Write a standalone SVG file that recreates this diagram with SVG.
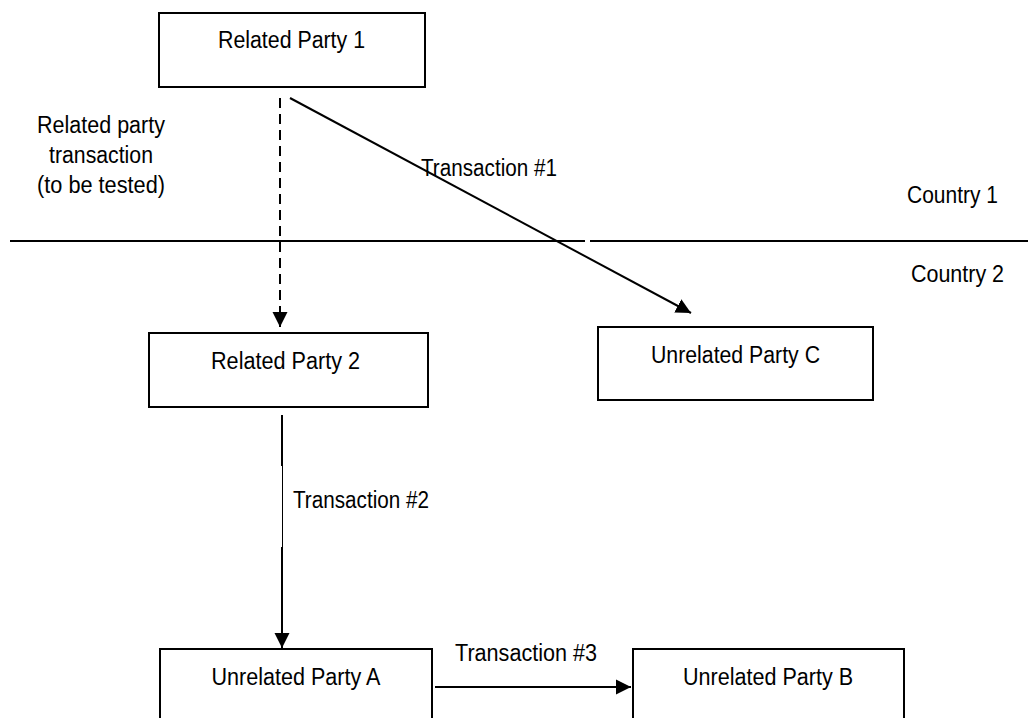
<svg xmlns="http://www.w3.org/2000/svg" width="1028" height="718" viewBox="0 0 1028 718">
<style>
.box{fill:#fff;stroke:#000;stroke-width:2}
.t{font-family:"Liberation Sans",Arial,sans-serif;font-size:23px;fill:#000}
.m{text-anchor:middle}
.ln{stroke:#000;stroke-width:2;fill:none}
.thin{stroke:#000;stroke-width:1;fill:none}
</style>
<defs>
<marker id="ah" markerUnits="userSpaceOnUse" markerWidth="16" markerHeight="16" viewBox="0 0 16 16" refX="15" refY="8" orient="auto">
<path d="M0,0.5 L15,8 L0,15.5 Z" fill="#000"/>
</marker>
</defs>
<rect width="1028" height="718" fill="#fff"/>
<g id="border-line">
<line class="ln" x1="10" y1="241" x2="585" y2="241"/>
<line class="ln" x1="590" y1="241" x2="1028" y2="241"/>
</g>
<g id="connectors">
<line class="ln" x1="280" y1="98" x2="280" y2="327" stroke-dasharray="10,6" marker-end="url(#ah)"/>
<line class="ln" x1="290" y1="98" x2="691" y2="313" stroke-width="2.4" marker-end="url(#ah)"/>
<line class="ln" x1="282" y1="415" x2="282" y2="466"/>
<line class="thin" x1="282.5" y1="465" x2="282.5" y2="548"/>
<line class="ln" x1="282" y1="547" x2="282" y2="648" marker-end="url(#ah)"/>
<line class="ln" x1="435" y1="687" x2="631" y2="687" marker-end="url(#ah)"/>
</g>
<g id="rp1">
<rect class="box" x="159" y="13" width="266" height="74"/>
<text class="t m" x="291.5" y="48" textLength="147" lengthAdjust="spacingAndGlyphs">Related Party 1</text>
</g>
<g id="rp2">
<rect class="box" x="149" y="333" width="279" height="74"/>
<text class="t m" x="285.5" y="369" textLength="149" lengthAdjust="spacingAndGlyphs">Related Party 2</text>
</g>
<g id="upc">
<rect class="box" x="598" y="327" width="275" height="73"/>
<text class="t m" x="735.5" y="363" textLength="169" lengthAdjust="spacingAndGlyphs">Unrelated Party C</text>
</g>
<g id="upa">
<rect class="box" x="160" y="649" width="272" height="80"/>
<text class="t m" x="296" y="685" textLength="169" lengthAdjust="spacingAndGlyphs">Unrelated Party A</text>
</g>
<g id="upb">
<rect class="box" x="633" y="649" width="271" height="80"/>
<text class="t m" x="768" y="685" textLength="170" lengthAdjust="spacingAndGlyphs">Unrelated Party B</text>
</g>
<g id="labels">
<text class="t m" x="101" y="133" textLength="128" lengthAdjust="spacingAndGlyphs">Related party</text>
<text class="t m" x="101" y="163" textLength="104" lengthAdjust="spacingAndGlyphs">transaction</text>
<text class="t m" x="101" y="193" textLength="128" lengthAdjust="spacingAndGlyphs">(to be tested)</text>
<text class="t" x="421" y="176" textLength="136" lengthAdjust="spacingAndGlyphs">Transaction #1</text>
<text class="t" x="293" y="508" textLength="136" lengthAdjust="spacingAndGlyphs">Transaction #2</text>
<text class="t" x="455" y="661" textLength="142" lengthAdjust="spacingAndGlyphs">Transaction #3</text>
<text class="t" x="907" y="203" textLength="91" lengthAdjust="spacingAndGlyphs">Country 1</text>
<text class="t" x="911" y="282" textLength="93" lengthAdjust="spacingAndGlyphs">Country 2</text>
</g>
</svg>
